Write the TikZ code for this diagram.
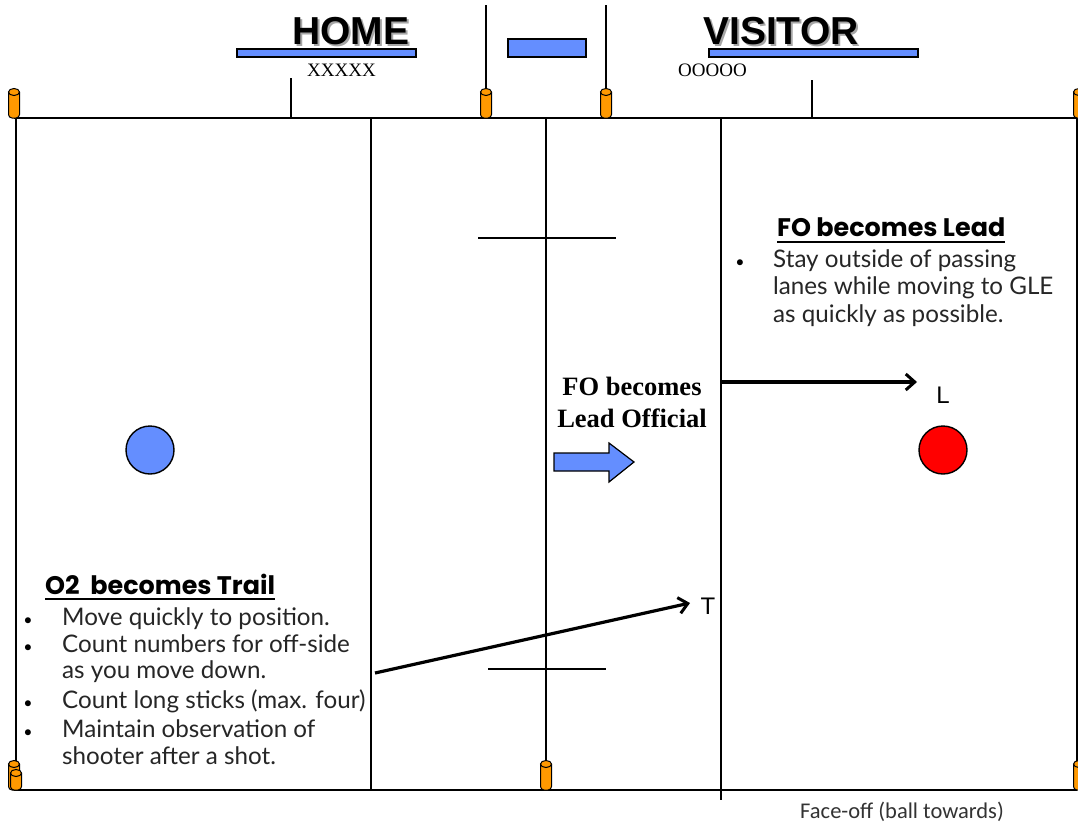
\documentclass[tikz,border=0pt]{standalone}
\usepackage{fontspec}
\setmainfont{Lato}
\newfontfamily\headfont{Poppins}
\newfontfamily\titlefont{Liberation Sans}
\newfontfamily\seriffont{Liberation Serif}
\newfontfamily\notefont{Carlito}
\usetikzlibrary{arrows.meta}

\definecolor{teamblue}{RGB}{100,142,255}
\definecolor{coneorange}{RGB}{255,153,0}

\tikzset{
  field/.style={line width=1.3pt},
  sideline/.style={line width=1.8pt},
  bar/.style={draw=black, line width=1.4pt, fill=teamblue},
  title/.style={font=\titlefont\bfseries\fontsize{39}{39}\selectfont, inner sep=0pt, anchor=base west},
  titleshadow/.style={title, text=black!35},
  roster/.style={font=\seriffont\fontsize{19}{19}\selectfont, inner sep=0pt, anchor=base west},
  body/.style={font=\fontsize{24.2}{24.2}\selectfont, inner sep=0pt, anchor=base west, text=black!85},
  heading/.style={font=\headfont\bfseries\fontsize{25.4}{25.4}\selectfont, inner sep=0pt, anchor=base west},
  bul/.style={font=\fontsize{16}{16}\selectfont, inner sep=0pt, anchor=base},
  posletter/.style={font=\titlefont\fontsize{24}{24}\selectfont, inner sep=0pt, anchor=base},
  dirarrow/.style={line width=3.2pt, -{Straight Barb[length=9pt,width=16pt,line width=3pt]}},
  official/.style={circle, draw=black, line width=1.4pt, minimum size=48pt, inner sep=0pt},
  cyl/.style={fill=coneorange, draw=black, line width=1pt}
}

% goal-area post: a small orange cylinder standing on (#1,#2), #3 tall
\newcommand\cylpost[3]{%
  \filldraw[cyl, rounded corners=3.5pt]
    (#1-5.5,#2-#3) -- (#1-5.5,#2) -- (#1+5.5,#2) -- (#1+5.5,#2-#3);
  \filldraw[cyl] (#1,#2-#3) ellipse[x radius=5.5, y radius=3.5];
}

\begin{document}
\begin{tikzpicture}[x=1pt, y=-1pt]
\useasboundingbox (0,0) rectangle (1078,825);
\fill[white] (0,0) rectangle (1078,825);

% field outline and lines
\draw[sideline] (14,118) -- (1077,118);
\draw[sideline] (14,790) -- (1077,790);
\draw[field] (16,118) -- (16,790);
\draw[field] (1077,118) -- (1077,790);
\draw[field] (371,118) -- (371,790);
\draw[field] (546,118) -- (546,790);
\draw[field] (721,118) -- (721,800);
\draw[line width=2.4pt] (721,126) -- (721,242);
\draw[line width=2pt] (721,668) -- (721,800);

% hash marks across the center line
\draw[field] (478,238) -- (616,238);
\draw[field] (488,669) -- (606,669);

% table area marks above the sideline
\draw[field] (291,78) -- (291,118);
\draw[field] (812,80) -- (812,118);
\draw[field] (486,5) -- (486,92);
\draw[field] (606,5) -- (606,92);

% posts
\cylpost{14}{118}{26}
\cylpost{486}{118}{26}
\cylpost{606}{118}{26}
\cylpost{1079}{118}{26}
\cylpost{14}{790}{26}
\cylpost{16}{790}{17}
\cylpost{546}{790}{26}
\cylpost{1079}{790}{26}

% bench labels and bars
\node[titleshadow] at (294,46) {HOME};
\node[title] (home) at (292,44) {HOME};
\node[titleshadow] at (705,46) {VISITOR};
\node[title] (visitor) at (703,44) {VISITOR};
\draw[bar] (237,49) rectangle (416,57);
\draw[bar] (508,39) rectangle (586,57);
\draw[bar] (709,49) rectangle (918,57);
\node[roster] (homeroster) at (307,76) {XXXXX};
\node[roster] (visroster) at (678,76) {OOOOO};

% officials
\node[official, fill=teamblue] (trail) at (150,450) {};
\node[official, fill=red] (lead) at (943,450) {};

% center caption and direction arrow
\node[font=\seriffont\bfseries\fontsize{26.5}{26.5}\selectfont, inner sep=0pt, anchor=base] (fo1) at (632,395) {FO becomes};
\node[font=\seriffont\bfseries\fontsize{26.5}{26.5}\selectfont, inner sep=0pt, anchor=base] (fo2) at (632,427) {Lead Official};
\filldraw[fill=teamblue, draw=black, line width=1.2pt]
  (554,453) -- (609,453) -- (609,443) -- (634,462) -- (609,482) -- (609,471) -- (554,471) -- cycle;

% movement arrows
\coordinate (leadstart) at (721,382);
\coordinate (leadend) at (917,382);
\node[posletter] (lmark) at (943,403) {L};
\draw[dirarrow] (leadstart) -- (leadend);
\coordinate (trailstart) at (375,673);
\coordinate (trailend) at (690,603);
\node[posletter] (tmark) at (708,614) {T};
\draw[dirarrow] (trailstart) -- (trailend);

% lead official notes
\node[heading] (leadhd) at (777,236) {FO becomes Lead};
\draw[line width=1.5pt] ([yshift=-6pt]leadhd.base west) -- ([yshift=-6pt]leadhd.base east);
\node[bul] (lb1) at (740,267) {•};
\node[body] (l1) at (773,267) {Stay outside of passing};
\node[body] (l2) at (773,294) {lanes while moving to GLE};
\node[body] (l3) at (773,322) {as quickly as possible.};

% trail official notes
\node[heading] (trailhd) at (45,594) {O2\ \ becomes Trail};
\draw[line width=1.5pt] ([yshift=-5pt]trailhd.base west) -- ([yshift=-5pt]trailhd.base east);
\node[bul] (tb1) at (28,625) {•};
\node[bul] (tb2) at (28,652) {•};
\node[bul] (tb3) at (28,708) {•};
\node[bul] (tb4) at (28,737) {•};
\node[body] (t1) at (62,625) {Move quickly to position.};
\node[body] (t2) at (62,652) {Count numbers for off-side};
\node[body] (t3) at (62,678) {as you move down.};
\node[body] (t4) at (62,708) {Count long sticks (max. four)};
\node[body] (t5) at (62,737) {Maintain observation of};
\node[body] (t6) at (62,764) {shooter after a shot.};

% face-off note
\node[font=\notefont\fontsize{22.5}{22.5}\selectfont, inner sep=0pt, anchor=base west, text=black!80] (note) at (800,818) {Face-off (ball towards)};
\end{tikzpicture}
\end{document}
